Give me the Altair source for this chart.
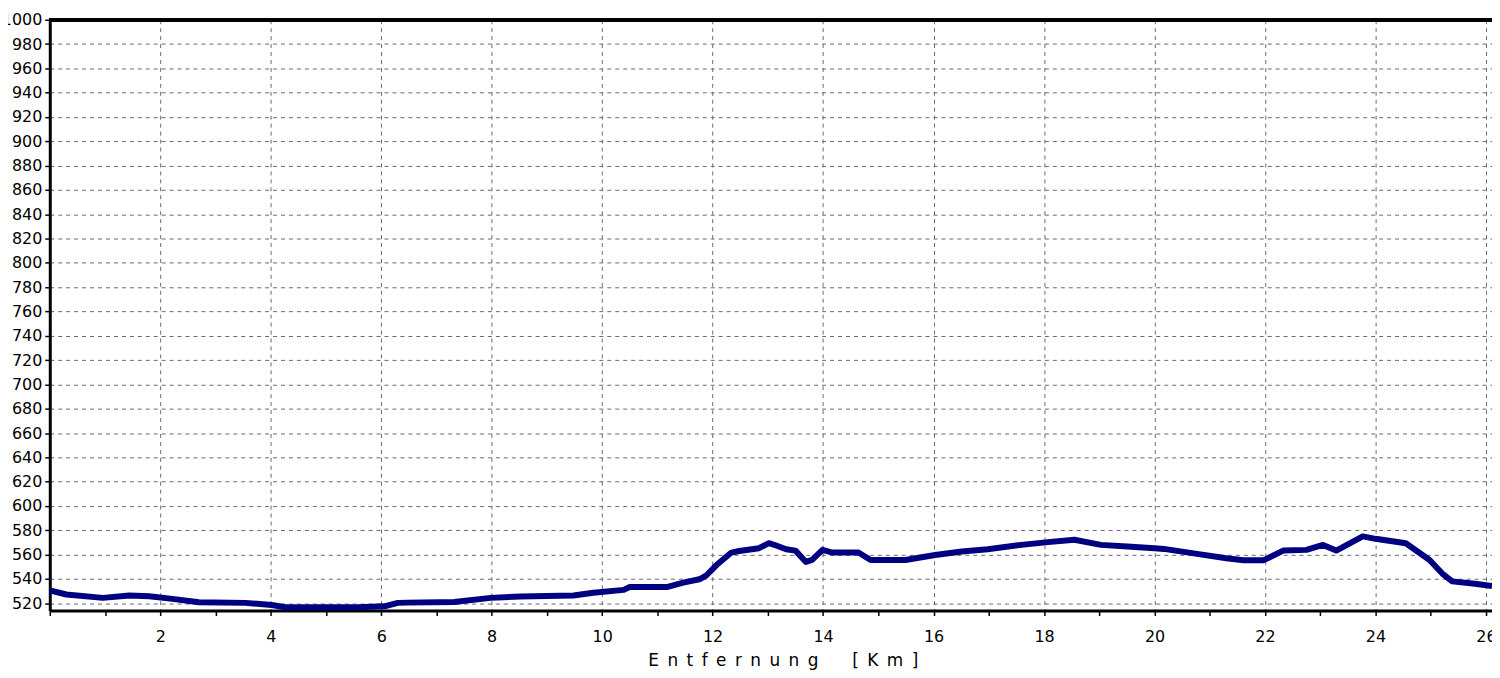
import altair as alt
import pandas as pd

# distance along the route (km) and elevation (m)
km = [0.0, 0.3, 0.96, 1.44, 1.8, 2.22, 2.7, 3.54, 4.02, 4.26, 5.58, 6.06, 6.3,
      6.48, 7.32, 7.98, 8.52, 9.48, 9.84, 10.39, 10.5, 11.17, 11.47, 11.76,
      11.89, 12.07, 12.34, 12.48, 12.84, 13.02, 13.15, 13.33, 13.5, 13.69,
      13.8, 13.99, 14.17, 14.64, 14.86, 15.49, 16.03, 16.51, 16.98, 17.59,
      18.07, 18.55, 19.03, 19.51, 20.0, 20.17, 20.71, 21.3, 21.61, 21.97,
      22.33, 22.75, 23.05, 23.29, 23.77, 24.0, 24.55, 24.98, 25.21, 25.39,
      25.8, 26.11]
elev = [530.6, 527.2, 524.4, 526.4, 525.8, 523.6, 520.8, 520.3, 518.6, 516.7,
        516.7, 517.5, 520.3, 520.5, 521.0, 524.4, 525.5, 526.4, 528.6, 531.0,
        533.3, 533.3, 537.0, 539.7, 543.0, 551.4, 561.7, 563.0, 565.3, 569.4,
        567.5, 564.4, 563.3, 554.0, 555.6, 563.9, 561.7, 561.7, 555.6, 555.6,
        559.7, 562.5, 564.4, 568.0, 570.3, 572.2, 568.0, 566.7, 565.3, 564.7,
        561.0, 557.0, 555.3, 555.3, 563.3, 563.9, 568.0, 563.3, 575.0, 573.0,
        569.4, 555.6, 544.4, 538.0, 536.0, 534.2]

x_ticks = [i * 0.5 for i in range(0, 53)]
y_ticks = list(range(520, 1001, 20))
x_domain = [0, 26.11]
y_domain = [514, 1000]
SP = "\u2002"
x_title = SP.join("Entfernung") + SP * 4 + SP.join("[Km]")

df = pd.DataFrame({"km": km, "elev": elev})
FONT = "DejaVu Sans"
GRID = "#6a6a6a"

x_axis = alt.Axis(
    values=x_ticks,
    labelExpr="(datum.value % 2 === 0 && datum.value > 0) ? datum.label : ''",
    format="d",
    grid=True,
    gridColor=GRID,
    gridDash=[4, 4],
    gridWidth=1,
    gridOpacity={"condition": {"test": "datum.value % 2 === 0", "value": 1}, "value": 0},
    domainColor="black",
    domainWidth=3,
    tickColor="black",
    tickWidth=1.5,
    tickSize=5,
    labelFont=FONT,
    labelFontSize=16,
    labelColor="black",
    labelPadding=13,
    labelFlush=False,
    labelOverlap=False,
    title=x_title,
    titleFont=FONT,
    titleFontSize=17,
    titleFontWeight="normal",
    titleColor="black",
    titleX=737,
    titleY=55,
    titleAlign="center",
    titleBaseline="alphabetic",
)

y_axis = alt.Axis(
    values=y_ticks,
    format="d",
    grid=True,
    gridColor=GRID,
    gridDash=[4, 4],
    gridWidth=1,
    domainColor="black",
    domainWidth=3,
    tickColor="black",
    tickWidth=1.5,
    tickSize=5,
    labelFont=FONT,
    labelFontSize=16,
    labelColor="black",
    labelPadding=3,
    labelFlush=False,
    labelOverlap=False,
    title=None,
)

line = alt.Chart(df).mark_line(color="#000080", strokeWidth=6, strokeJoin="round").encode(
    x=alt.X("km:Q", scale=alt.Scale(domain=x_domain, nice=False, zero=False), axis=x_axis),
    y=alt.Y("elev:Q", scale=alt.Scale(domain=y_domain, nice=False, zero=False), axis=y_axis),
)

# plot frame along the top edge
top_border = alt.Chart(df).mark_rule(color="black", strokeWidth=3).encode(
    y=alt.value(0)
)

chart = alt.layer(line, top_border).properties(
    width=1450,
    height=594,
    autosize=alt.AutoSizeParams(type="none"),
    padding={"left": 42, "top": 10, "right": 0, "bottom": 58},
    background="white",
).configure_view(strokeWidth=0)

chart.save("out.html", embed_options={"renderer": "svg", "actions": False})
